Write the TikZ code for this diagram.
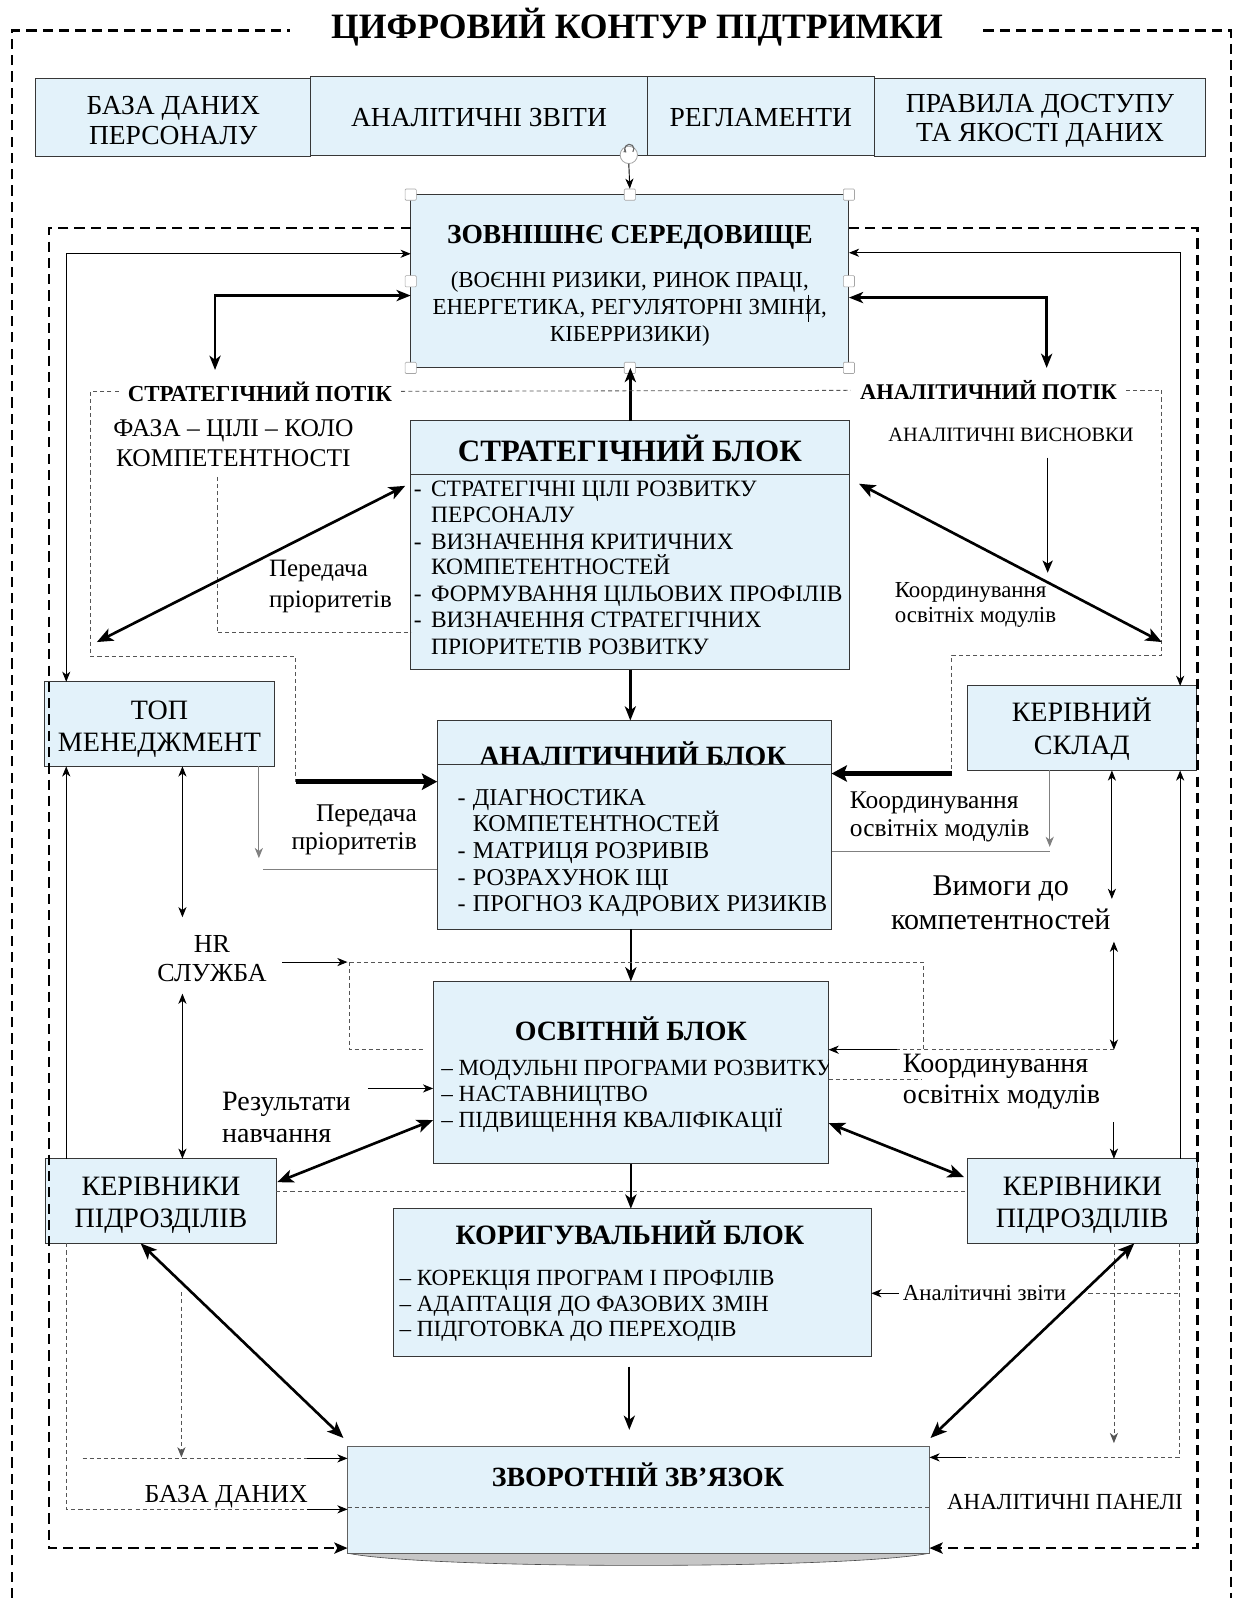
\documentclass[tikz,border=0pt]{standalone}
\usepackage{fontspec}
\setmainfont{Liberation Serif}
\usetikzlibrary{arrows.meta,calc}
\definecolor{boxfill}{RGB}{227,242,250}
\definecolor{boxline}{RGB}{55,55,55}
\definecolor{dashgrey}{RGB}{85,85,85}
\newcommand{\setfs}[2]{\fontsize{#1}{#2}\selectfont}

\begin{document}
\begin{tikzpicture}[x=1pt,y=-1pt,
  >={Stealth[length=10pt,width=8pt,inset=3pt]},
  boxst/.style={draw=boxline, fill=boxfill, line width=1pt, inner sep=0pt, outer sep=0pt, anchor=north west, align=center},
  boxtxt/.style={inner sep=0pt, outer sep=0pt, align=center, font=\setfs{27}{29}},
  sidetxt/.style={inner sep=0pt, outer sep=0pt, align=center, font=\setfs{27.5}{32}},
  thinln/.style={line width=0.9pt},
  greyln/.style={line width=0.9pt, draw=gray},
  medln/.style={line width=2.3pt, >={Stealth[length=14pt,width=11pt,inset=4pt]}},
  bigln/.style={line width=2.6pt, >={Stealth[length=16pt,width=13pt,inset=4pt]}},
  hugeln/.style={line width=5pt, >={Stealth[length=15pt,width=16pt,inset=3pt]}},
  gdash/.style={line width=0.8pt, draw=dashgrey, dash pattern=on 4pt off 3pt},
  kdash/.style={line width=2.2pt, dash pattern=on 10pt off 6pt, >={Stealth[length=13pt,width=11pt,inset=3pt]}},
  lbl/.style={inner sep=0pt, outer sep=0pt},
  handle/.style={draw=gray!70, fill=white, line width=0.6pt, minimum size=11pt, inner sep=0pt, rounded corners=1pt}
]
\useasboundingbox (0,0) rectangle (1214,1568);

% ---------- title and outer frame ----------
\node[lbl, anchor=base, font=\bfseries\setfs{35}{40}] (title) at (625,38) {ЦИФРОВИЙ КОНТУР ПІДТРИМКИ};
\draw[kdash] (12,1568) -- (12,30) -- (285,30);
\draw[kdash] (965,30) -- (1208,30) -- (1208,1568);

% ---------- top row ----------
\node[boxst, minimum width=270pt, minimum height=77pt] (db) at (35,77) {};
\node[boxst, minimum width=330pt, minimum height=78pt] (rep) at (305,75) {};
\node[boxst, minimum width=223pt, minimum height=78pt] (reg) at (635,75) {};
\node[boxst, minimum width=325pt, minimum height=77pt] (rules) at (858,77) {};
\node[boxtxt] (dbt) at ([yshift=-3pt]db.center) {БАЗА ДАНИХ\\ПЕРСОНАЛУ};
\node[boxtxt] (rept) at ([yshift=-1pt]rep.center) {АНАЛІТИЧНІ ЗВІТИ};
\node[boxtxt] (regt) at ([yshift=-1pt]reg.center) {РЕГЛАМЕНТИ};
\node[boxtxt] (rulest) at ([yshift=-3pt]rules.center) {ПРАВИЛА ДОСТУПУ\\ТА ЯКОСТІ ДАНИХ};

% ---------- external environment ----------
\node[boxst, minimum width=430pt, minimum height=170pt] (env) at (403,191) {};
\node[lbl, font=\bfseries\setfs{27}{30}] (envt) at (618,233) {ЗОВНІШНЄ СЕРЕДОВИЩЕ};
\node[lbl, align=center, font=\setfs{22.5}{26.5}] (envb) at (618,303) {(ВОЄННІ РИЗИКИ, РИНОК ПРАЦІ,\\ЕНЕРГЕТИКА, РЕГУЛЯТОРНІ ЗМІНИ,\\КІБЕРРИЗИКИ)};
\draw[line width=0.8pt] (793,289) -- (793,316);
\foreach \a/\n in {north west/1,north/2,north east/3,west/4,east/5,south west/6,south/7,south east/8}
  \node[handle] (hd\n) at (env.\a) {};
\node[circle, draw=gray!70, fill=white, minimum size=17pt, inner sep=0pt, line width=0.8pt] (rot) at (617,152) {};
\draw[gray!80!black, line width=1.1pt, -{Stealth[length=3pt,width=4pt]}] ($(rot)+(4,-3)$) arc[start angle=-40, end angle=230, radius=4.5pt];
\draw[thinln,->] (rot.south) -- (hd2.north);

% ---------- strategic block ----------
\node[boxst, minimum width=431pt, minimum height=244pt] (strat) at (403,413) {};
\node[lbl, font=\bfseries\setfs{30.5}{32}] (stratt) at (618,440) {СТРАТЕГІЧНИЙ БЛОК};
\draw[line width=1pt, boxline] ($(strat.north west)+(0,53)$) -- ($(strat.north east)+(0,53)$);
\foreach \y/\t [count=\i] in {487/{СТРАТЕГІЧНІ ЦІЛІ РОЗВИТКУ}, 513/{ПЕРСОНАЛУ}, 539/{ВИЗНАЧЕННЯ КРИТИЧНИХ}, 564/{КОМПЕТЕНТНОСТЕЙ}, 590/{ФОРМУВАННЯ ЦІЛЬОВИХ ПРОФІЛІВ}, 616/{ВИЗНАЧЕННЯ СТРАТЕГІЧНИХ}, 642/{ПРІОРИТЕТІВ РОЗВИТКУ}}
  \node[lbl, anchor=base west, font=\setfs{23}{26}] (si\i) at (423,\y) {\t};
\foreach \y [count=\i] in {487,539,590,616}
  \node[lbl, anchor=base west, font=\setfs{23}{26}] (sh\i) at (406,\y) {-};

% ---------- analytic block ----------
\node[boxst, minimum width=387pt, minimum height=205pt] (anal) at (429,707) {};
\node[lbl, anchor=base, font=\bfseries\setfs{27.4}{30}] (analt) at (621,751) {АНАЛІТИЧНИЙ БЛОК};
\draw[line width=1pt, boxline] ($(anal.north west)+(0,43)$) -- ($(anal.north east)+(0,43)$);
\foreach \y/\t [count=\i] in {790/{ДІАГНОСТИКА}, 816/{КОМПЕТЕНТНОСТЕЙ}, 842/{МАТРИЦЯ РОЗРИВІВ}, 869/{РОЗРАХУНОК ІЦІ}, 894/{ПРОГНОЗ КАДРОВИХ РИЗИКІВ}}
  \node[lbl, anchor=base west, font=\setfs{23.7}{26}] (ai\i) at (464,\y) {\t};
\foreach \y [count=\i] in {790,842,869,894}
  \node[lbl, anchor=base west, font=\setfs{23.7}{26}] (ah\i) at (449,\y) {-};

% ---------- educational block ----------
\node[boxst, minimum width=388pt, minimum height=179pt] (edu) at (425,963) {};
\node[lbl, font=\bfseries\setfs{27.4}{30}] (edut) at (619,1009) {ОСВІТНІЙ БЛОК};
\begin{scope}
  \clip (edu.north west) rectangle (edu.south east);
  \foreach \y/\t [count=\i] in {1055/{– МОДУЛЬНІ ПРОГРАМИ РОЗВИТКУ}, 1081/{– НАСТАВНИЦТВО}, 1106/{– ПІДВИЩЕННЯ КВАЛІФІКАЦІЇ}}
    \node[lbl, anchor=base west, font=\setfs{22.7}{25}] (ei\i) at (433,\y) {\t};
\end{scope}

% ---------- corrective block ----------
\node[boxst, minimum width=469pt, minimum height=145pt] (corr) at (386,1186) {};
\node[lbl, font=\bfseries\setfs{27.5}{30}] (corrt) at (618,1210) {КОРИГУВАЛЬНИЙ БЛОК};
\foreach \y/\t [count=\i] in {1261/{– КОРЕКЦІЯ ПРОГРАМ І ПРОФІЛІВ}, 1287/{– АДАПТАЦІЯ ДО ФАЗОВИХ ЗМІН}, 1311/{– ПІДГОТОВКА ДО ПЕРЕХОДІВ}}
  \node[lbl, anchor=base west, font=\setfs{22.7}{25}] (ci\i) at (392,\y) {\t};

% ---------- feedback ----------
\fill[gray!45] (341,1524) .. controls (420,1540) and (833,1540) .. (912,1524) -- cycle;
\draw[gray!60!black, line width=0.6pt] (341,1524) .. controls (420,1540) and (833,1540) .. (912,1524);
\node[boxst, draw=gray!75!black, minimum width=571pt, minimum height=105pt] (fb) at (341,1419) {};
\node[lbl, font=\bfseries\setfs{27.3}{30}] (fbt) at (626,1447) {ЗВОРОТНІЙ ЗВ’ЯЗОК};
\draw[gdash] ($(fb.north west)+(0,60)$) -- ($(fb.north east)+(0,60)$);

% ---------- side boxes ----------
\node[boxst, minimum width=225pt, minimum height=83pt] (top) at (44,669) {};
\node[boxst, minimum width=225pt, minimum height=83pt] (ks) at (949,673) {};
\node[boxst, minimum width=226pt, minimum height=83pt] (kl) at (45,1137) {};
\node[boxst, minimum width=226pt, minimum height=83pt] (kr) at (949,1137) {};
\node[sidetxt] (topt) at ([yshift=-5pt]top.center) {ТОП\\МЕНЕДЖМЕНТ};
\node[sidetxt] (kst) at ([yshift=-1pt]ks.center) {КЕРІВНИЙ\\СКЛАД};
\node[sidetxt] (klt) at ([yshift=-4pt]kl.center) {КЕРІВНИКИ\\ПІДРОЗДІЛІВ};
\node[sidetxt] (krt) at ([yshift=-4pt]kr.center) {КЕРІВНИКИ\\ПІДРОЗДІЛІВ};

% ---------- free labels (multi-line ones anchored at their last baseline) ----------
\node[lbl, font=\bfseries\setfs{22.5}{24}] (sfl) at (255,384) {СТРАТЕГІЧНИЙ ПОТІК};
\node[lbl, font=\bfseries\setfs{22}{24}] (afl) at (970,383) {АНАЛІТИЧНИЙ ПОТІК};
\node[lbl, align=center, font=\setfs{25}{29}] (fase) at (229,435) {ФАЗА – ЦІЛІ – КОЛО\\КОМПЕТЕНТНОСТІ};
\node[lbl, font=\setfs{20}{22}] (avs) at (992,427) {АНАЛІТИЧНІ ВИСНОВКИ};
\node[lbl, anchor=base west, align=left, font=\setfs{24.5}{30}] (pp1) at (264,596) {Передача\\пріоритетів};
\node[lbl, anchor=base west, align=left, font=\setfs{22.5}{24.5}] (km1) at (878,611) {Координування\\освітніх модулів};
\node[lbl, anchor=base east, align=right, font=\setfs{25}{28}] (pp2) at (409,834) {Передача\\пріоритетів};
\node[lbl, anchor=base west, align=left, font=\setfs{25}{28}] (km2) at (834,821) {Координування\\освітніх модулів};
\node[lbl, anchor=base, align=center, font=\setfs{29.5}{33}] (vym) at (982,912) {Вимоги до\\компетентностей};
\node[lbl, anchor=base, align=center, font=\setfs{25.5}{28}] (hr) at (208,963) {HR\\СЛУЖБА};
\node[lbl, anchor=base west, align=left, font=\setfs{27.5}{31}] (res) at (218,1121) {Результати\\навчання};
\node[lbl, anchor=base west, align=left, font=\setfs{27.5}{31}] (km3) at (886,1083) {Координування\\освітніх модулів};
\node[lbl, anchor=base west, font=\setfs{22.4}{24}] (azl) at (886,1276) {Аналітичні звіти};
\node[lbl, anchor=base, font=\setfs{25.4}{28}] (bdl) at (222,1474) {БАЗА ДАНИХ};
\node[lbl, anchor=base, font=\setfs{22.6}{26}] (apl) at (1045,1481) {АНАЛІТИЧНІ ПАНЕЛІ};

% ---------- inner frame ----------
\coordinate (f1) at (48,224); \coordinate (f2) at (48,1519);
\coordinate (f3) at (1175,224); \coordinate (f4) at (1175,1519);
\draw[kdash,->] (env.west |- f1) -- (f1) -- (f2) -- (fb.west |- f2);
\draw[kdash,->] (env.east |- f3) -- (f3) -- (f4) -- (fb.east |- f4);

% ---------- links around the environment ----------
\coordinate (cA) at (65,249); \coordinate (cB) at (1158,248);
\draw[thinln,<->] (top.north -| cA) |- (env.west |- cA);
\draw[thinln,<->] (ks.north -| cB) |- (env.east |- cB);
\coordinate (cC) at (211,290); \coordinate (cCt) at (211,363);
\coordinate (cD) at (1027,292); \coordinate (cDt) at (1027,361);
\draw[medln,<->] (cCt) |- (env.west |- cC);
\draw[medln,<->] (cDt) |- (env.east |- cD);
\draw[medln,->] (strat.north) -- (strat.north |- env.south);

% ---------- flow outlines ----------
\coordinate (fl1) at (89,384); \coordinate (fl2) at (89,644);
\coordinate (fl3) at (290,644); \coordinate (fl4) at (290,767);
\draw[gdash] ([xshift=-9pt]sfl.west) -- (fl1) -- (fl2) -- (fl3) -- (fl4);
\draw[gdash] ([xshift=9pt]sfl.east) -- ([xshift=-9pt]afl.west);
\coordinate (fr1) at (1140,383); \coordinate (fr2) at (1140,643);
\coordinate (fr3) at (934,643); \coordinate (fr4) at (934,759);
\draw[gdash] ([xshift=9pt]afl.east) -- (fr1) -- (fr2) -- (fr3) -- (fr4);
\draw[hugeln,->] (fl4) -- (anal.west |- fl4);
\draw[hugeln,->] (fr4) -- (anal.east |- fr4);
\coordinate (fz1) at (213,468); \coordinate (fz2) at (213,621);
\draw[gdash] (fz1) -- (fz2) -- (strat.west |- fz2);

% ---------- diagonal exchanges with the strategic block ----------
\coordinate (dg1) at (95,630); \coordinate (dg2) at (0,474);
\draw[bigln,<->,shorten >=6pt] (dg1) -- (strat.west |- dg2);
\coordinate (dg3) at (1140,630); \coordinate (dg4) at (0,470);
\draw[bigln,<->,shorten >=10pt] (dg3) -- (strat.east |- dg4);
\coordinate (av1) at (1028,449); \coordinate (av2) at (1028,562);
\draw[line width=1.6pt, >={Stealth[length=12pt,width=10pt,inset=3pt]}, ->] (av1) -- (av2);

% ---------- main vertical chain ----------
\draw[medln,->] (strat.south) -- (strat.south |- anal.north);
\draw[medln,->] (edu.north |- anal.south) -- (edu.north);
\draw[medln,->] (edu.south) -- (edu.south |- corr.north);
\draw[medln,->,shorten <=10pt,shorten >=16pt] ([xshift=-3pt]corr.south) -- ([xshift=-3pt]corr.south |- fb.north);

% ---------- left column ----------
\coordinate (xl1) at (65,0);
\draw[thinln,->] (kl.north -| xl1) -- (top.south -| xl1);
\coordinate (xl2) at (179,900);
\draw[thinln,<->] (top.south -| xl2) -- (xl2);
\coordinate (g1) at (254,842); \coordinate (g2) at (258,853);
\draw[greyln,->] (top.south -| g1) -- (g1);
\draw[greyln] (g2) -- (anal.west |- g2);
\coordinate (xl3) at (179,975);
\draw[thinln,<->] (xl3) -- (kl.north -| xl3);
\coordinate (h1) at (277,944); \coordinate (h2) at (341,944);
\draw[thinln,->] (h1) -- (h2);
\coordinate (h3) at (343,944); \coordinate (h4) at (906,944); \coordinate (h5) at (906,1030);
\coordinate (h6) at (343,1030); \coordinate (h7) at (417,1030);
\draw[gdash] (h3) -- (h4) -- (h5);
\draw[gdash] (h3) -- (h6) -- (h7);
\coordinate (r1) at (361,1068);
\draw[thinln,->] (r1) -- (edu.west |- r1);
\coordinate (e0) at (0,1099); \coordinate (e1) at (272,1160);
\draw[bigln,<->] (edu.west |- e0) -- (e1);

% ---------- right column ----------
\coordinate (xr1) at (1158,0);
\draw[thinln,->] (kr.north -| xr1) -- (ks.south -| xr1);
\coordinate (k1) at (1030,831); \coordinate (k2) at (1030,835);
\draw[greyln,->] (ks.south -| k1) -- (k1);
\draw[greyln] (anal.east |- k2) -- (k2);
\coordinate (xr2) at (1091,882);
\draw[thinln,<->] (ks.south -| xr2) -- (xr2);
\coordinate (xr3) at (1093,924); \coordinate (xr4) at (1093,1030); \coordinate (xr5) at (880,1030);
\draw[thinln,<->] (xr3) -- (xr4);
\draw[gdash] (xr4) -- (xr5);
\draw[thinln,->] (xr5) -- (edu.east |- xr5);
\coordinate (xr6) at (905,1059);
\draw[gdash] (edu.east |- xr6) -- (xr6);
\coordinate (xr7) at (1093,1101);
\draw[thinln,->] (xr7) -- (kr.north -| xr7);
\coordinate (e2) at (946,1155); \coordinate (e3) at (0,1102);
\draw[bigln,<->] (edu.east |- e3) -- (e2);

% ---------- lower links ----------
\coordinate (yk) at (0,1169);
\draw[gdash] (kl.east |- yk) -- (kr.west |- yk);
\coordinate (az1) at (882,1269); \coordinate (az2) at (1068,1269); \coordinate (az3) at (1157,1269);
\draw[thinln,->] (az1) -- (corr.east |- az1);
\draw[gdash] (az2) -- (az3);
\coordinate (xr8) at (1157,0); \coordinate (b1) at (1157,1430); \coordinate (b2) at (948,1430);
\draw[gdash] (kr.south -| xr8) -- (b1) -- (b2);
\draw[thinln,->] (b2) -- (fb.east |- b2);
\coordinate (xr9) at (1093,1416);
\draw[gdash,->] (kr.south -| xr9) -- (xr9);
\coordinate (e4) at (1113,0); \coordinate (e5) at (913,1411);
\draw[bigln,<->] (kr.south -| e4) -- (e5);
\coordinate (e6) at (138,0); \coordinate (e7) at (337,1411);
\draw[bigln,<->] (kl.south -| e6) -- (e7);
\coordinate (l1) at (178,1268); \coordinate (l2) at (178,1430);
\draw[gdash,->] (l1) -- (l2);
\coordinate (l3) at (81,1431); \coordinate (l4) at (301,1431);
\draw[gdash] (l3) -- (l4);
\draw[thinln,->] (l4) -- (fb.west |- l4);
\coordinate (l5) at (65,1481); \coordinate (l6) at (301,1481);
\draw[gdash] (kl.south -| l5) -- (l5) -- (l6);
\draw[thinln,->] (l6) -- (fb.west |- l6);
\end{tikzpicture}
\end{document}
